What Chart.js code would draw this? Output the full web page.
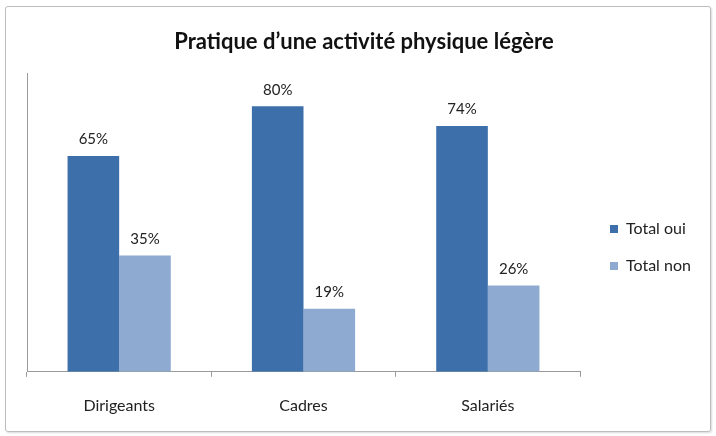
<!DOCTYPE html>
<html>
<head>
<meta charset="utf-8">
<script src="https://cdn.jsdelivr.net/npm/chart.js@4"></script>
<style>
  html, body { margin: 0; padding: 0; background: #fff; }
  #wrap { position: relative; width: 716px; height: 436px; }
  #frame { position: absolute; left: 5px; top: 6px; width: 704px; height: 424px;
           border: 1px solid #bdbdbd; border-radius: 3px; box-shadow: 1px 1px 2px rgba(0,0,0,0.15); pointer-events: none; }
  canvas { position: absolute; left: 0; top: 0; }
</style>
</head>
<body>
<div id="wrap">
  <canvas id="chart1" width="716" height="436"></canvas>
  <div id="frame"></div>
</div>
<script>
var titleText = "Pratique d\u2019une activit\u00e9 physique l\u00e9g\u00e8re";
var categories = ['Dirigeants', 'Cadres', 'Salari\u00e9s'];
var seriesNames = ['Total oui', 'Total non'];
var totalOui = [65, 80, 74];
var totalNon = [35, 19, 26];
var barColors = ['#3d70aa', '#8eaad1'];

// labels above the bars + title + legend on the right
var extras = {
  id: 'extras',
  afterDatasetsDraw: function(chart) {
    var ctx = chart.ctx;
    ctx.save();
    ctx.fillStyle = '#222';
    ctx.font = '15px Lato';
    ctx.textAlign = 'center';
    ctx.textBaseline = 'bottom';
    chart.data.datasets.forEach(function(ds, i) {
      chart.getDatasetMeta(i).data.forEach(function(bar, j) {
        ctx.fillText(ds.data[j] + '%', bar.x, bar.y - 9);
      });
    });

    ctx.font = 'bold 22px Lato';
    ctx.textBaseline = 'middle';
    ctx.fillStyle = '#111';
    ctx.fillText(titleText, 364, 42);

    ctx.font = '16px Lato';
    ctx.textAlign = 'left';
    seriesNames.forEach(function(name, i) {
      var y = 229 + i * 37;
      ctx.fillStyle = barColors[i];
      ctx.fillRect(610, y - 4, 8, 8);
      ctx.fillStyle = '#222';
      ctx.fillText(name, 626, y);
    });
    ctx.restore();
  }
};

new Chart('chart1', {
  type: 'bar',
  data: {
    labels: categories,
    datasets: [
      { label: seriesNames[0], data: totalOui, backgroundColor: barColors[0] },
      { label: seriesNames[1], data: totalNon, backgroundColor: barColors[1] }
    ]
  },
  options: {
    responsive: false,
    animation: false,
    layout: { padding: { left: 19, right: 136, top: 73, bottom: 2 } },
    categoryPercentage: 0.56,
    barPercentage: 1.0,
    plugins: {
      legend: { display: false },
      title: { display: false },
      tooltip: { enabled: false }
    },
    scales: {
      y: {
        min: 0,
        max: 90,
        ticks: { display: false },
        grid: { display: false },
        border: { display: true, color: '#9a9a9a', width: 1 }
      },
      x: {
        grid: { display: true, drawOnChartArea: false, tickLength: 5, color: '#9a9a9a', offset: true },
        border: { display: true, color: '#9a9a9a', width: 1 },
        ticks: { color: '#222', font: { family: 'Lato', size: 16 }, padding: 19 }
      }
    }
  },
  plugins: [extras]
});
</script>
</body>
</html>
